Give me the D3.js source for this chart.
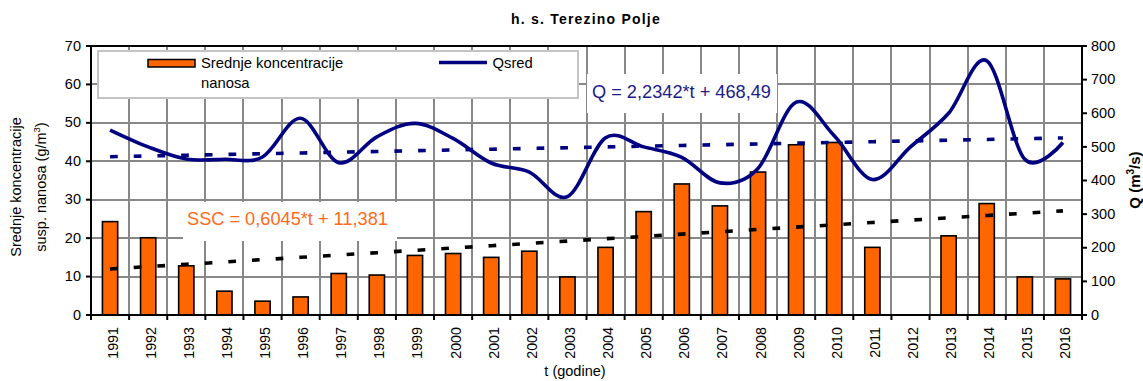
<!DOCTYPE html>
<html>
<head>
<meta charset="utf-8">
<script src="https://cdn.jsdelivr.net/npm/d3@7"></script>
<style>
  html, body { margin: 0; padding: 0; background: #fff; }
  svg { display: block; font-family: Arial, "Liberation Sans", sans-serif; }
</style>
</head>
<body>
<svg id="chart" width="1143" height="381"></svg>
<script>
// Yearly series for h. s. Terezino Polje
const years = ["1991","1992","1993","1994","1995","1996","1997","1998","1999","2000",
               "2001","2002","2003","2004","2005","2006","2007","2008","2009","2010",
               "2011","2012","2013","2014","2015","2016"];
// mean suspended sediment concentration (g/m3); 2012 has no measurement
const ssc = [24.3, 20.1, 12.8, 6.2, 3.6, 4.7, 10.8, 10.4, 15.5, 16.0,
             15.0, 16.6, 9.9, 17.6, 26.9, 34.1, 28.4, 37.2, 44.3, 44.9,
             17.6, null, 20.6, 29.0, 9.9, 9.4];
// mean discharge Qsred (m3/s)
const qsred = [550, 500, 464, 463, 470, 585, 453, 530, 570, 525,
               452, 425, 352, 527, 500, 469, 393, 436, 633, 533,
               403, 500, 600, 756, 463, 513];
// linear trends: value = slope * t + intercept, t = 1..26
const sscTrend = [0.6045, 11.381];
const qTrend = [2.2342, 468.49];
const leftTicks = [0, 10, 20, 30, 40, 50, 60, 70];
const rightTicks = [0, 100, 200, 300, 400, 500, 600, 700, 800];

const svg = d3.select("#chart");
const L = 91, R = 1082, T = 46, B = 315;
const font = 'Arial, "Liberation Sans", sans-serif';

const x = d3.scaleBand().domain(years).range([L, R]).paddingInner(0).paddingOuter(0);
const yL = d3.scaleLinear().domain([0, 70]).range([B, T]);
const yR = d3.scaleLinear().domain([0, 800]).range([B, T]);
const cx = d => x(d) + x.bandwidth() / 2;
// category boundaries as a continuous index scale (0..26)
const xb = d3.scaleLinear().domain([0, years.length]).range([L, R]);

// grid: 2px bands at the left-axis ticks and at category boundaries
const gridColor = "#888888";
const gridLayer = svg.append("g").attr("class", "grid");
gridLayer.selectAll("rect.gh").data(leftTicks.slice(1)).join("rect").attr("class", "gh")
  .attr("x", L).attr("y", v => Math.round(yL(v)) - 1)
  .attr("width", R - L).attr("height", 2).attr("fill", gridColor);
gridLayer.selectAll("rect.gv").data(d3.range(1, years.length)).join("rect").attr("class", "gv")
  .attr("x", i => Math.round(xb(i)) - 1).attr("y", T)
  .attr("width", 2).attr("height", B - T).attr("fill", gridColor);

// legend box
svg.append("rect").attr("x", 98).attr("y", 51).attr("width", 480).attr("height", 47)
  .attr("fill", "#fff").attr("stroke", "#c4c4c4").attr("stroke-width", 2);

// equation label backgrounds
svg.append("rect").attr("x", 587).attr("y", 74).attr("width", 190).attr("height", 39).attr("fill", "#fff");
svg.append("rect").attr("x", 183).attr("y", 202).attr("width", 214).attr("height", 39).attr("fill", "#fff");

// bars
const bw = x.bandwidth() * 0.4;
svg.append("g").selectAll("rect")
  .data(years.map((d, i) => ({ d, v: ssc[i] })).filter(o => o.v != null))
  .join("rect")
  .attr("x", o => cx(o.d) - bw / 2)
  .attr("y", o => yL(o.v))
  .attr("width", bw)
  .attr("height", o => yL(0) - yL(o.v))
  .attr("fill", "#ff6600")
  .attr("stroke", "#000")
  .attr("stroke-width", 1.6);

// trend lines
const tIdx = years.map((d, i) => i + 1);
const sscLine = d3.line().x(t => cx(years[t - 1])).y(t => yL(sscTrend[0] * t + sscTrend[1]));
const qLineTrend = d3.line().x(t => cx(years[t - 1])).y(t => yR(qTrend[0] * t + qTrend[1]));
svg.append("path").attr("d", sscLine(tIdx)).attr("fill", "none")
  .attr("stroke", "#000").attr("stroke-width", 3.6).attr("stroke-dasharray", "7.7,16");
svg.append("path").attr("d", qLineTrend(tIdx)).attr("fill", "none")
  .attr("stroke", "#000080").attr("stroke-width", 3.6).attr("stroke-dasharray", "7.7,16");

// discharge line
const qLine = d3.line().x((d, i) => cx(years[i])).y(d => yR(d)).curve(d3.curveCatmullRom.alpha(0));
svg.append("path").attr("d", qLine(qsred)).attr("fill", "none")
  .attr("stroke", "#000080").attr("stroke-width", 3.6).attr("stroke-linejoin", "round");

// frame: top border and axes
svg.append("line").attr("x1", L).attr("x2", R).attr("y1", T).attr("y2", T).attr("stroke", "#000").attr("stroke-width", 2);

const axL = svg.append("g").attr("transform", `translate(${L},0)`)
  .call(d3.axisLeft(yL).tickValues(leftTicks).tickSize(5).tickPadding(5).offset(0));
const axR = svg.append("g").attr("transform", `translate(${R},0)`)
  .call(d3.axisRight(yR).tickValues(rightTicks).tickSize(5).tickPadding(4).offset(0));
const axB = svg.append("g").attr("transform", `translate(0,${B})`)
  .call(d3.axisBottom(xb).tickValues(d3.range(0, years.length + 1)).tickSize(5).tickFormat("").offset(0));
[axL, axR, axB].forEach(a => {
  a.select(".domain").attr("stroke", "#000").attr("stroke-width", 2);
  a.selectAll(".tick line").attr("stroke", "#000").attr("stroke-width", 2);
  a.selectAll("text").attr("font-family", font).attr("font-size", 14.5).attr("fill", "#000");
});
// rotated year labels
axB.selectAll("text.yr").data(years).join("text").attr("class", "yr")
  .attr("transform", d => `translate(${cx(d) + 2.5},${12}) rotate(-90)`)
  .attr("text-anchor", "end").attr("dy", "0.35em").attr("fill", "#000")
  .attr("font-family", font).attr("font-size", 14.3).text(d => d);

// texts
svg.append("text").attr("x", 586).attr("y", 24).attr("text-anchor", "middle")
  .attr("font-family", font).attr("font-size", 14).attr("font-weight", "bold")
  .attr("letter-spacing", 1.2).text("h. s. Terezino Polje");

svg.append("text").attr("x", 575).attr("y", 376).attr("text-anchor", "middle")
  .attr("font-family", font).attr("font-size", 14.5).text("t (godine)");

const yl = svg.append("text").attr("transform", "translate(21,187) rotate(-90)")
  .attr("text-anchor", "middle").attr("font-family", font).attr("font-size", 14.5);
yl.append("tspan").attr("x", 0).attr("y", 0).text("Srednje koncentracije");
const yl2 = svg.append("text").attr("transform", "translate(46,187) rotate(-90)")
  .attr("text-anchor", "middle").attr("font-family", font).attr("font-size", 14.5);
yl2.append("tspan").text("susp. nanosa (g/m");
yl2.append("tspan").attr("dy", -6).attr("font-size", 9.5).text("3");
yl2.append("tspan").attr("dy", 6).text(")");

const yr = svg.append("text").attr("transform", "translate(1140,180) rotate(-90)")
  .attr("text-anchor", "middle").attr("font-family", font).attr("font-size", 15).attr("font-weight", "bold");
yr.append("tspan").text("Q (m");
yr.append("tspan").attr("dy", -6).attr("font-size", 10).text("3");
yr.append("tspan").attr("dy", 6).text("/s)");

// legend entries
svg.append("rect").attr("x", 148).attr("y", 59.5).attr("width", 47).attr("height", 7.5)
  .attr("fill", "#ff6600").attr("stroke", "#000").attr("stroke-width", 1.5);
svg.append("text").attr("x", 201).attr("y", 67.5).attr("font-family", font).attr("font-size", 14.8)
  .text("Srednje koncentracije");
svg.append("text").attr("x", 201).attr("y", 87.5).attr("font-family", font).attr("font-size", 14.8)
  .text("nanosa");
svg.append("line").attr("x1", 439).attr("x2", 487).attr("y1", 62.5).attr("y2", 62.5)
  .attr("stroke", "#000080").attr("stroke-width", 3.6);
svg.append("text").attr("x", 492.5).attr("y", 67.5).attr("font-family", font).attr("font-size", 14.8)
  .text("Qsred");

// equations
svg.append("text").attr("x", 592).attr("y", 98).attr("font-family", font).attr("font-size", 18.2)
  .attr("fill", "#1c1c8a").text(`Q = ${String(qTrend[0]).replace(".", ",")}*t + ${String(qTrend[1]).replace(".", ",")}`);
svg.append("text").attr("x", 187).attr("y", 225).attr("font-family", font).attr("font-size", 18.2)
  .attr("fill", "#ff6a1a").text(`SSC = ${String(sscTrend[0]).replace(".", ",")}*t + ${String(sscTrend[1]).replace(".", ",")}`);
</script>
</body>
</html>
